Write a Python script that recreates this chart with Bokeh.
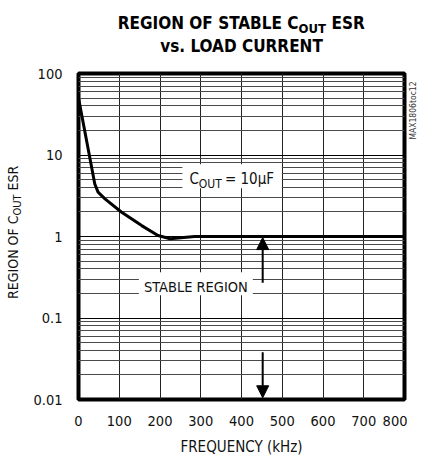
import math
from bokeh.plotting import figure
from bokeh.layouts import column, row
from bokeh.models import Range1d, FixedTicker, Label, Arrow, NormalHead
from bokeh.embed import file_html
from bokeh.resources import INLINE

# ---- data ----
freq_khz = [0, 40, 48, 65, 105, 155, 195, 225, 285, 300, 400, 500, 600, 700, 800]
esr = [50, 4.4, 3.5, 2.9, 2.0, 1.36, 1.03, 0.94, 1.0, 1.0, 1.0, 1.0, 1.0, 1.0, 1.0]
x_ticks = [0, 100, 200, 300, 400, 500, 600, 700, 800]
y_ticks = [0.01, 0.1, 1, 10, 100]
y_tick_labels = ["0.01", "0.1", "1", "10", "100"]
y_minor = [m * d for d in [0.01, 0.1, 1, 10] for m in range(2, 10)]

FONT = "DejaVu Sans Condensed"
TXT = "#111111"


def blank_fig(w, h):
    f = figure(width=w, height=h, x_range=Range1d(0, 1), y_range=Range1d(0, 1),
               toolbar_location=None, output_backend="svg", min_border=0,
               x_axis_location=None, y_axis_location=None)
    f.outline_line_color = None
    f.grid.grid_line_color = None
    f.background_fill_color = "white"
    f.border_fill_color = "white"
    return f


# ---- main chart ----
p = figure(width=377, height=398,
           x_range=Range1d(0, 800), y_range=Range1d(0.01, 100),
           y_axis_type="log", output_backend="svg", toolbar_location=None,
           min_border_left=48, min_border_right=3,
           min_border_top=10, min_border_bottom=62)

p.xaxis.ticker = FixedTicker(ticks=x_ticks)
p.yaxis.ticker = FixedTicker(ticks=y_ticks, minor_ticks=y_minor)
p.yaxis.major_label_overrides = {t: s for t, s in zip(y_ticks, y_tick_labels)}

for ax in (p.xaxis, p.yaxis):
    ax.axis_line_color = None
    ax.major_tick_line_color = None
    ax.minor_tick_line_color = None
    ax.major_tick_out = 0
    ax.major_tick_in = 0
    ax.minor_tick_out = 0
    ax.minor_tick_in = 0
    ax.major_label_text_font = FONT
    ax.major_label_text_font_size = "14.5px"
    ax.major_label_text_color = TXT
p.xaxis.major_label_standoff = 16
p.yaxis.major_label_standoff = 16
p.xaxis.axis_label = "FREQUENCY (kHz)"
p.xaxis.axis_label_text_font = FONT
p.xaxis.axis_label_text_font_size = "15px"
p.xaxis.axis_label_text_font_style = "normal"
p.xaxis.axis_label_text_color = TXT
p.xaxis.axis_label_standoff = 9

p.xgrid.grid_line_color = "#222222"
p.xgrid.grid_line_width = 1
p.ygrid.grid_line_color = "#000000"
p.ygrid.grid_line_width = 1.2
p.ygrid.minor_grid_line_color = "#4a4a4a"
p.ygrid.minor_grid_line_width = 1

p.outline_line_color = "black"
p.outline_line_width = 4
p.background_fill_color = "white"
p.border_fill_color = "white"

p.line(freq_khz, esr, line_width=3, color="black", line_join="round")

p.add_layout(Label(x=255, y=3.9, text="C", text_font=FONT, text_font_size="15px",
                   text_color=TXT, background_fill_color="white",
                   padding=dict(left=7, right=83, top=6, bottom=0)))
p.add_layout(Label(x=255, y=3.9, x_offset=16.4, y_offset=-3, text="OUT", text_font=FONT,
                   text_font_size="12px", text_color=TXT))
p.add_layout(Label(x=255, y=3.9, x_offset=42.5, text=" = 10\u00b5F", text_font=FONT,
                   text_font_size="15px", text_color=TXT))

p.add_layout(Label(x=288, y=0.19, text="STABLE REGION", text_align="center",
                   text_font=FONT, text_font_size="14.5px", text_color=TXT,
                   background_fill_color="white",
                   padding=dict(left=5, right=5, top=7, bottom=0)))

p.add_layout(Arrow(x_start=452, y_start=0.27, x_end=452, y_end=0.97, line_width=2,
                   line_color="black",
                   end=NormalHead(size=12, fill_color="black", line_color="black")))
p.add_layout(Arrow(x_start=452, y_start=0.038, x_end=452, y_end=0.0105, line_width=2,
                   line_color="black",
                   end=NormalHead(size=12, fill_color="black", line_color="black")))

# ---- title strip ----
tf = blank_fig(429, 63)
tkw = dict(x_units="screen", y_units="screen", text_font=FONT,
           text_font_style="bold", text_color="black")
tf.add_layout(Label(x=298, y=31, text="REGION OF STABLE C", text_align="right",
                    text_font_size="17px", **tkw))
tf.add_layout(Label(x=298, y=28, text="OUT", text_align="left",
                    text_font_size="13px", **tkw))
tf.add_layout(Label(x=331, y=31, text="ESR", text_align="left",
                    text_font_size="17px", **tkw))
tf.add_layout(Label(x=241, y=8, text="vs. LOAD CURRENT", text_align="center",
                    text_font_size="17px", **tkw))

# ---- y-axis title strip (frame aligned with main frame: page y 73..399) ----
yf = blank_fig(30, 398)
rot = math.pi / 2
ykw = dict(x_units="screen", y_units="screen", text_font=FONT, text_color=TXT, angle=rot)
yf.add_layout(Label(x=20, y=184, text="REGION OF C", text_align="right",
                    text_font_size="14px", **ykw))
yf.add_layout(Label(x=23, y=184, text="OUT", text_align="left",
                    text_font_size="11px", **ykw))
yf.add_layout(Label(x=20, y=209, text="ESR", text_align="left",
                    text_font_size="14px", **ykw))

# ---- right strip ----
rf = blank_fig(22, 398)
rf.add_layout(Label(x=5, y=289, text="MAX1806toc12", angle=rot, text_align="center",
                    text_baseline="middle", text_font_size="8.5px",
                    x_units="screen", y_units="screen", text_font=FONT,
                    text_color="#333333"))

layout = column(tf, row(yf, p, rf))
open("out.html", "w").write(file_html(layout, INLINE))
